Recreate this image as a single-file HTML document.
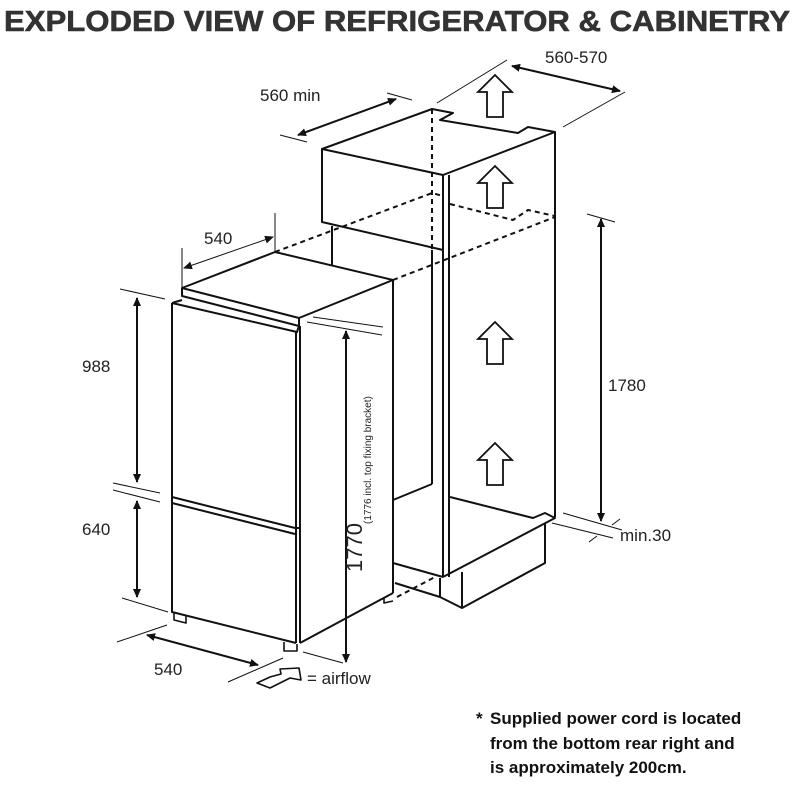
<!DOCTYPE html>
<html><head><meta charset="utf-8"><style>
html,body{margin:0;padding:0;background:#fff;}
svg{display:block;font-family:"Liberation Sans",sans-serif;}
</style></head><body>
<svg width="800" height="800" viewBox="0 0 800 800" xmlns="http://www.w3.org/2000/svg">
<defs>
<marker id="a" markerWidth="10" markerHeight="10" refX="8" refY="5" orient="auto-start-reverse" markerUnits="userSpaceOnUse"><path d="M0,1 L9,5 L0,9 Z" fill="#111"/></marker>
<g id="up"><path d="M0,-21 L17,-4 L8,-4 L8,21 L-8,21 L-8,-4 L-17,-4 Z" fill="#fff" stroke="#111" stroke-width="1.8" stroke-linejoin="miter"/></g>
</defs>
<text x="4" y="31" font-size="29" font-weight="bold" fill="#333" textLength="786" lengthAdjust="spacingAndGlyphs" stroke="#333" stroke-width="0.6">EXPLODED VIEW OF REFRIGERATOR &amp; CABINETRY</text>

<g fill="none" stroke="#111" stroke-width="2" stroke-linejoin="round">
<path d="M322,149 L432,109 L453,113 L440,120 L518,133 L528,127 L555,132 L443,175 Z" fill="#fff"/>
<path d="M322,149 L322,222 L443,250"/>
<line x1="443" y1="175" x2="443" y2="577"/>
<line x1="449" y1="175" x2="449" y2="577"/>
<line x1="555" y1="132" x2="555" y2="517"/>
<line x1="432" y1="250" x2="432" y2="484"/>
<line x1="332" y1="226" x2="332" y2="265"/>
<line x1="393" y1="280" x2="393" y2="593"/>
<path d="M393,500 L432,484"/>
<path d="M450,497 L533,518 L545,513 L555,518 L443,577"/>
<path d="M393,563 L443,577"/>
<path d="M395,583 L440,597 L440,578"/>
<path d="M462,572 L462,608 L545,563 L545,524"/>
<path d="M440,597 L462,608"/>
<!-- fridge -->
<path d="M182,288 L275,252 L393,280 L299,318 Z" fill="#fff"/>
<path d="M182,288 L182,296 L299,326 L299,318"/>
<path d="M172,303 L182,300 M172,303 L297,332 L299,326"/>
<path d="M172,303 L172,612 L296,643"/>
<path d="M296,332 L296,643"/>
<path d="M300,326 L300,643"/>
<path d="M300,643 L393,593"/>
<path d="M172,497 L295,528 M172,503 L295,534 M295,528 L299,528"/>
<path d="M174,612 L174,620 L186,623 L186,615" stroke-width="1.6"/>
<path d="M284,642 L284,651 L297,651 L297,644" stroke-width="1.6"/>
<path d="M384,597 L384,603 L393,601" stroke-width="1.6"/>
</g>
<g fill="none" stroke="#111" stroke-width="2" stroke-dasharray="5,4">
<line x1="432" y1="109" x2="432" y2="250"/>
<path d="M275,252 L432,193 L443,196"/>
<path d="M450,204 L513,220 L528,210 L555,216"/>
<path d="M393,280 L555,217"/>
<path d="M397,597 L435,577"/>
</g>
<use href="#up" x="495" y="96"/>
<use href="#up" x="495" y="187"/>
<use href="#up" x="495" y="343"/>
<use href="#up" x="495" y="464"/>

<g stroke="#111" stroke-width="1">
<line x1="437" y1="103" x2="507" y2="60"/>
<line x1="563" y1="127" x2="625" y2="92"/>
<line x1="280" y1="135" x2="307" y2="142"/>
<line x1="387" y1="93" x2="412" y2="100"/>
<line x1="182" y1="248" x2="182" y2="288"/>
<line x1="275" y1="213" x2="275" y2="252"/>
<line x1="120" y1="289" x2="165" y2="299"/>
<line x1="113" y1="483" x2="160" y2="493"/>
<line x1="113" y1="490" x2="160" y2="502"/>
<line x1="122" y1="598" x2="168" y2="612"/>
<line x1="117" y1="642" x2="167" y2="625"/>
<line x1="228" y1="682" x2="283" y2="658"/>
<line x1="313" y1="317" x2="383" y2="327"/>
<line x1="307" y1="322" x2="382" y2="335"/>
<line x1="303" y1="652" x2="343" y2="663"/>
<line x1="587" y1="214" x2="615" y2="222"/>
<line x1="563" y1="513" x2="622" y2="530"/>
<line x1="552" y1="523" x2="613" y2="538"/>
<line x1="589" y1="542" x2="597" y2="536"/>
<line x1="612" y1="525" x2="620" y2="519"/>
</g>
<g stroke="#111" fill="none">
<line x1="512" y1="66" x2="620" y2="91" stroke-width="2" marker-start="url(#a)" marker-end="url(#a)"/>
<line x1="298" y1="135" x2="396" y2="99" stroke-width="2" marker-start="url(#a)" marker-end="url(#a)"/>
<line x1="184" y1="268" x2="273" y2="237" stroke-width="1" marker-start="url(#a)" marker-end="url(#a)"/>
<line x1="137" y1="298" x2="137" y2="482" stroke-width="2" marker-start="url(#a)" marker-end="url(#a)"/>
<line x1="137" y1="501" x2="137" y2="597" stroke-width="2" marker-start="url(#a)" marker-end="url(#a)"/>
<line x1="147" y1="635" x2="258" y2="665" stroke-width="2" marker-start="url(#a)" marker-end="url(#a)"/>
<line x1="346" y1="331" x2="346" y2="662" stroke-width="2" marker-start="url(#a)" marker-end="url(#a)"/>
<line x1="601" y1="219" x2="601" y2="521" stroke-width="2" marker-start="url(#a)" marker-end="url(#a)"/>
</g>
<!-- airflow icon pointing right/up -->
<path d="M257,683 L270,677 L281,674 L280,669 L299,668 L301,680 L290,678 L270,688 Z" fill="#fff" stroke="#111" stroke-width="1.6" stroke-linejoin="round"/>

<g fill="#222" font-size="17">
<text x="545" y="63">560-570</text>
<text x="260" y="101">560 min</text>
<text x="204" y="244">540</text>
<text x="82" y="372">988</text>
<text x="82" y="535">640</text>
<text x="154" y="675">540</text>
<text x="307" y="684">= airflow</text>
<text x="608" y="391">1780</text>
<text x="620" y="541">min.30</text>
<text transform="translate(362,572) rotate(-90)" font-size="22">1770</text>
<text transform="translate(371,524) rotate(-90)" font-size="10">(1776 incl. top fixing bracket)</text>
</g>
<g fill="#111" font-size="17" font-weight="bold">
<text x="476" y="724">*</text>
<text x="490" y="724">Supplied power cord is located</text>
<text x="490" y="749">from the bottom rear right and</text>
<text x="490" y="773">is approximately 200cm.</text>
</g>
</svg>
</body></html>
